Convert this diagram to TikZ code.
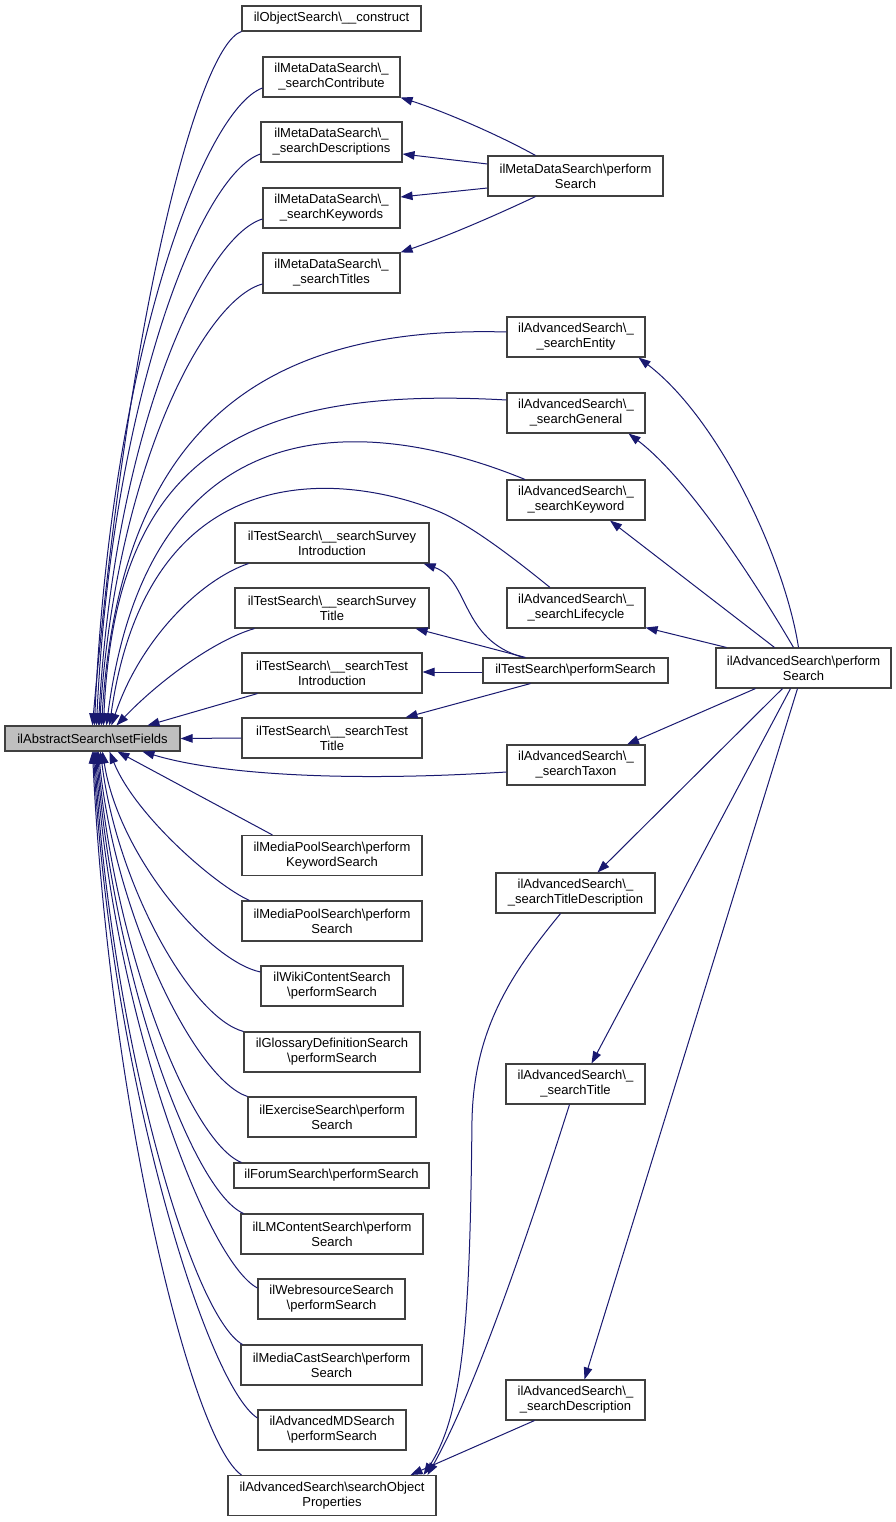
\documentclass[tikz,border=0pt]{standalone}
\usepackage{fontspec}
\setmainfont{Liberation Sans}
\usetikzlibrary{arrows.meta,calc}
\newcommand\BSL{\textbackslash}
\definecolor{edgec}{HTML}{191970}
\definecolor{nodeb}{HTML}{404040}
\definecolor{hl}{HTML}{BFBFBF}
\begin{document}
\begin{tikzpicture}[x=1pt,y=-1pt,
  box/.style={draw=nodeb, line width=1.1pt, fill=white, rectangle, inner sep=0pt, align=center, font=\fontsize{13}{15}\selectfont, text=black, minimum height=40pt},
  one/.style={minimum height=25pt},
  edge/.style={draw=edgec, line width=1pt, -{Triangle[length=12pt,width=8.5pt]}},
]
\useasboundingbox[fill=white] (0,0) rectangle (896,1522);

% nodes
\node[box, one, fill=hl, minimum width=175pt] (sf) at (92.5,738.5) {ilAbstractSearch\BSL{}setFields};
\node[box, one, minimum width=179pt] (oc) at (331.5,18.5) {ilObjectSearch\BSL\_\_construct};
\node[box, minimum width=137pt] (mc) at (331.5,77) {ilMetaDataSearch\BSL\_\\\_searchContribute};
\node[box, minimum width=141pt] (md) at (331.5,142) {ilMetaDataSearch\BSL\_\\\_searchDescriptions};
\node[box, minimum width=137pt] (mk) at (331.5,208) {ilMetaDataSearch\BSL\_\\\_searchKeywords};
\node[box, minimum width=137pt] (mt) at (331.5,273) {ilMetaDataSearch\BSL\_\\\_searchTitles};
\node[box, minimum width=175pt] (mp) at (575.5,176) {ilMetaDataSearch\BSL{}perform\\Search};
\node[box, minimum width=138pt] (ae) at (576,337) {ilAdvancedSearch\BSL\_\\\_searchEntity};
\node[box, minimum width=138pt] (ag) at (576,413) {ilAdvancedSearch\BSL\_\\\_searchGeneral};
\node[box, minimum width=138pt] (ak) at (576,500) {ilAdvancedSearch\BSL\_\\\_searchKeyword};
\node[box, minimum width=138pt] (al) at (576,608) {ilAdvancedSearch\BSL\_\\\_searchLifecycle};
\node[box, minimum width=138pt] (at) at (576,765) {ilAdvancedSearch\BSL\_\\\_searchTaxon};
\node[box, minimum width=159pt] (atd) at (575.5,893) {ilAdvancedSearch\BSL\_\\\_searchTitleDescription};
\node[box, minimum width=139pt] (ati) at (575.5,1084) {ilAdvancedSearch\BSL\_\\\_searchTitle};
\node[box, minimum width=139pt] (ads) at (575.5,1400) {ilAdvancedSearch\BSL\_\\\_searchDescription};
\node[box, minimum width=175pt] (ap) at (803.5,668) {ilAdvancedSearch\BSL{}perform\\Search};
\node[box, one, minimum width=185pt] (tp) at (575.5,670.5) {ilTestSearch\BSL{}performSearch};
\node[box, minimum width=194pt] (tsi) at (332,543) {ilTestSearch\BSL\_\_searchSurvey\\Introduction};
\node[box, minimum width=194pt] (tst) at (332,608) {ilTestSearch\BSL\_\_searchSurvey\\Title};
\node[box, minimum width=180pt] (tti) at (332,673) {ilTestSearch\BSL\_\_searchTest\\Introduction};
\node[box, minimum width=180pt] (ttt) at (332,738) {ilTestSearch\BSL\_\_searchTest\\Title};
\node[box, minimum width=180pt] (mpk) at (332,855.5) {ilMediaPoolSearch\BSL{}perform\\KeywordSearch};
\node[box, minimum width=180pt] (mpp) at (332,921) {ilMediaPoolSearch\BSL{}perform\\Search};
\node[box, minimum width=142pt] (wc) at (332,986) {ilWikiContentSearch\\\BSL{}performSearch};
\node[box, minimum width=176pt] (gd) at (332,1052) {ilGlossaryDefinitionSearch\\\BSL{}performSearch};
\node[box, minimum width=168pt] (ex) at (332,1117) {ilExerciseSearch\BSL{}perform\\Search};
\node[box, one, minimum width=195pt] (fs) at (331.5,1175.5) {ilForumSearch\BSL{}performSearch};
\node[box, minimum width=182pt] (lm) at (332,1234) {ilLMContentSearch\BSL{}perform\\Search};
\node[box, minimum width=147pt] (wr) at (331.5,1299) {ilWebresourceSearch\\\BSL{}performSearch};
\node[box, minimum width=181pt] (mcs) at (331.5,1365) {ilMediaCastSearch\BSL{}perform\\Search};
\node[box, minimum width=148pt] (amd) at (332,1430) {ilAdvancedMDSearch\\\BSL{}performSearch};
\node[box, minimum width=208pt] (sop) at (332,1495.5) {ilAdvancedSearch\BSL{}searchObject\\Properties};

% edges into setFields (top)
\draw[edge] (oc.south west) .. controls (200,45) and (130,300) .. ($(sf.north west)+(88,0)$);
\draw[edge] ($(mc.west)+(0,11)$) .. controls (203,110) and (110,360) .. ($(sf.north west)+(90,0)$);
\draw[edge] ($(md.west)+(0,12)$) .. controls (201,174) and (112,397) .. ($(sf.north west)+(92,0)$);
\draw[edge] ($(mk.west)+(0,11)$) .. controls (203,237) and (114,434) .. ($(sf.north west)+(94,0)$);
\draw[edge] ($(mt.west)+(0,11)$) .. controls (203,300) and (116,472) .. ($(sf.north west)+(95,0)$);
\draw[edge] ($(ae.west)+(0,-5)$) .. controls (260,325) and (120,430) .. ($(sf.north west)+(97,0)$);
\draw[edge] ($(ag.west)+(0,-13)$) .. controls (240,385) and (115,460) .. ($(sf.north west)+(99,0)$);
\draw[edge] ($(ak.north)+(-51,0)$) .. controls (380,420) and (150,390) .. ($(sf.north west)+(102,0)$);
\draw[edge] ($(al.north)+(-26,0)$) .. controls (510,555) and (470,525) .. (440,512) .. controls (360,478) and (150,440) .. ($(sf.north west)+(105,0)$);
\draw[edge] ($(tsi.south west)+(14,0)$) .. controls (200,580) and (140,640) .. ($(sf.north west)+(107,0)$);
\draw[edge] ($(tst.south west)+(20,0)$) .. controls (215,640) and (160,680) .. ($(sf.north west)+(112,0)$);
\draw[edge] ($(tti.south west)+(16,0)$) -- ($(sf.north west)+(143,0)$);
\draw[edge] (ttt.west) -- (sf.east);

% edges into setFields (bottom)
\draw[edge] ($(at.west)+(0,7)$) .. controls (350,782) and (220,775) .. ($(sf.south west)+(138,0)$);
\draw[edge] ($(mpk.north west)+(31,0)$) -- ($(sf.south west)+(113,0)$);
\draw[edge] ($(mpp.north west)+(8,0)$) .. controls (215,885) and (135,815) .. ($(sf.south west)+(105,0)$);
\draw[edge] ($(wc.west)+(0,-14)$) .. controls (209,961) and (119,857) .. ($(sf.south west)+(98,0)$);
\draw[edge] (gd.north west) .. controls (192,1018) and (117,886) .. ($(sf.south west)+(96,0)$);
\draw[edge] (ex.north west) .. controls (196,1080) and (115,917) .. ($(sf.south west)+(94,0)$);
\draw[edge] ($(fs.north west)+(8,0)$) .. controls (190,1142) and (114,949) .. ($(sf.south west)+(93,0)$);
\draw[edge] ($(lm.north west)+(3,0)$) .. controls (192,1191) and (113,973) .. ($(sf.south west)+(92,0)$);
\draw[edge] ($(wr.west)+(0,-11)$) .. controls (206,1261) and (112,1009) .. ($(sf.south west)+(91,0)$);
\draw[edge] ($(mcs.north west)+(2,0)$) .. controls (191,1315) and (111,1036) .. ($(sf.south west)+(90,0)$);
\draw[edge] ($(amd.west)+(0,-12)$) .. controls (206,1385) and (110,1071) .. ($(sf.south west)+(89,0)$);
\draw[edge] ($(sop.north west)+(14,0)$) .. controls (190,1439) and (109,1098) .. ($(sf.south west)+(88,0)$);

% MetaData performSearch
\draw[edge] ($(mp.north)+(-40,0)$) .. controls (495,133) and (440,110) .. (mc.south east);
\draw[edge] ($(mp.west)+(0,-12)$) -- ($(md.east)+(0,12)$);
\draw[edge] ($(mp.west)+(0,12)$) -- ($(mk.east)+(0,-11)$);
\draw[edge] ($(mp.south)+(-40,0)$) .. controls (490,218) and (445,237) .. (mt.north east);

% AdvancedSearch performSearch
\draw[edge] ($(ap.north)+(-5,0)$) .. controls (785,560) and (720,420) .. ($(ae.south east)+(-7,0)$);
\draw[edge] ($(ap.north)+(-10,0)$) .. controls (760,590) and (690,480) .. ($(ag.south east)+(-17,0)$);
\draw[edge] ($(ap.north)+(-29,0)$) -- ($(ak.south)+(34,0)$);
\draw[edge] ($(ap.north)+(-77,0)$) -- ($(al.south east)+(0,-1)$);
\draw[edge] ($(ap.south)+(-48,0)$) -- ($(at.north)+(51,0)$);
\draw[edge] ($(ap.south)+(-21,0)$) -- ($(atd.north)+(22,0)$);
\draw[edge] ($(ap.south)+(-13,0)$) -- ($(ati.north)+(16,0)$);
\draw[edge] ($(ap.south)+(-6,0)$) -- ($(ads.north)+(9,0)$);

% TestSearch performSearch
\draw[edge] ($(tp.north)+(-52,0)$) .. controls (460,640) and (470,580) .. ($(tsi.south east)+(-6,0)$);
\draw[edge] ($(tp.north)+(-50,0)$) -- ($(tst.south east)+(-14,0)$);
\draw[edge] ($(tp.west)+(0,1.5)$) -- ($(tti.east)+(0,-1)$);
\draw[edge] ($(tp.south)+(-45,0)$) -- ($(ttt.north east)+(-17,0)$);

% into searchObjectProperties
\draw[edge] ($(atd.south)+(-15,0)$) .. controls (510,975) and (474,1030) .. (472,1120) .. controls (470,1300) and (466,1410) .. ($(sop.north east)+(-13,0)$);
\draw[edge] ($(ati.south)+(-6,0)$) .. controls (520,1260) and (470,1400) .. ($(sop.north east)+(-9,0)$);
\draw[edge] ($(ads.south west)+(29,0)$) -- ($(sop.north east)+(-26,0)$);
\end{tikzpicture}
\end{document}
